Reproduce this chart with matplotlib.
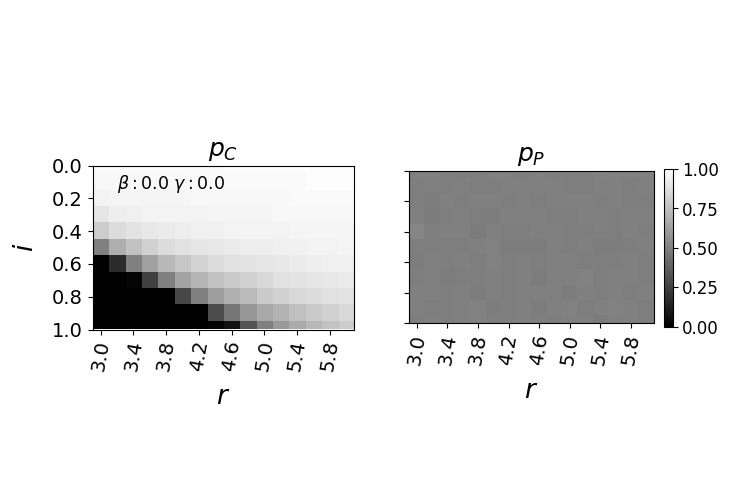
import matplotlib
matplotlib.use('Agg')
import matplotlib.pyplot as plt
import numpy as np

r_vals = [3.0, 3.2, 3.4, 3.6, 3.8, 4.0, 4.2, 4.4, 4.6, 4.8, 5.0, 5.2, 5.4, 5.6, 5.8, 6.0]
i_vals = [0.0, 0.1, 0.2, 0.3, 0.4, 0.5, 0.6, 0.7, 0.8, 0.9, 1.0]
x_ticks = [3.0, 3.4, 3.8, 4.2, 4.6, 5.0, 5.4, 5.8]
y_ticks = [0.0, 0.2, 0.4, 0.6, 0.8, 1.0]
cbar_ticks = [0.0, 0.25, 0.5, 0.75, 1.0]

# rows = i, columns = r
p_c = [
    [0.98, 0.98, 0.98, 0.98, 0.98, 0.98, 0.98, 0.98, 0.99, 0.99, 0.99, 0.99, 0.99, 0.99, 0.99, 0.99],
    [0.97, 0.97, 0.97, 0.97, 0.97, 0.97, 0.98, 0.98, 0.98, 0.98, 0.98, 0.98, 0.98, 0.99, 0.99, 0.99],
    [0.95, 0.96, 0.96, 0.96, 0.96, 0.96, 0.97, 0.97, 0.97, 0.97, 0.97, 0.97, 0.98, 0.98, 0.98, 0.98],
    [0.90, 0.93, 0.94, 0.95, 0.95, 0.95, 0.95, 0.96, 0.96, 0.96, 0.96, 0.97, 0.97, 0.97, 0.97, 0.97],
    [0.80, 0.86, 0.89, 0.91, 0.92, 0.93, 0.94, 0.94, 0.95, 0.95, 0.95, 0.95, 0.96, 0.96, 0.96, 0.96],
    [0.50, 0.68, 0.76, 0.82, 0.86, 0.88, 0.90, 0.91, 0.92, 0.93, 0.93, 0.94, 0.94, 0.95, 0.95, 0.96],
    [0.00, 0.17, 0.50, 0.63, 0.72, 0.78, 0.83, 0.86, 0.88, 0.89, 0.90, 0.91, 0.92, 0.93, 0.94, 0.94],
    [0.00, 0.00, 0.02, 0.25, 0.50, 0.64, 0.71, 0.76, 0.79, 0.82, 0.85, 0.88, 0.89, 0.90, 0.91, 0.92],
    [0.00, 0.00, 0.00, 0.00, 0.00, 0.28, 0.50, 0.62, 0.69, 0.73, 0.79, 0.82, 0.85, 0.86, 0.88, 0.89],
    [0.00, 0.00, 0.00, 0.00, 0.00, 0.00, 0.00, 0.30, 0.46, 0.59, 0.66, 0.70, 0.75, 0.79, 0.82, 0.85],
    [0.00, 0.00, 0.00, 0.00, 0.00, 0.00, 0.00, 0.02, 0.07, 0.33, 0.50, 0.60, 0.67, 0.72, 0.76, 0.80],
]

p_p = [
    [0.50, 0.50, 0.495, 0.495, 0.495, 0.50, 0.50, 0.495, 0.50, 0.495, 0.495, 0.495, 0.505, 0.50, 0.50, 0.50],
    [0.495, 0.50, 0.495, 0.50, 0.495, 0.495, 0.50, 0.50, 0.50, 0.50, 0.495, 0.495, 0.50, 0.50, 0.495, 0.50],
    [0.495, 0.49, 0.50, 0.495, 0.50, 0.50, 0.495, 0.50, 0.495, 0.50, 0.50, 0.50, 0.495, 0.50, 0.495, 0.495],
    [0.50, 0.485, 0.495, 0.50, 0.495, 0.49, 0.50, 0.50, 0.50, 0.495, 0.495, 0.50, 0.50, 0.495, 0.50, 0.50],
    [0.525, 0.495, 0.50, 0.50, 0.485, 0.50, 0.495, 0.495, 0.50, 0.50, 0.495, 0.495, 0.50, 0.495, 0.50, 0.495],
    [0.495, 0.495, 0.495, 0.495, 0.50, 0.505, 0.49, 0.49, 0.49, 0.50, 0.495, 0.50, 0.49, 0.49, 0.495, 0.50],
    [0.49, 0.50, 0.495, 0.50, 0.495, 0.505, 0.495, 0.50, 0.495, 0.50, 0.50, 0.495, 0.495, 0.495, 0.50, 0.495],
    [0.495, 0.50, 0.49, 0.495, 0.495, 0.50, 0.495, 0.50, 0.49, 0.50, 0.50, 0.51, 0.495, 0.50, 0.50, 0.495],
    [0.50, 0.50, 0.495, 0.50, 0.49, 0.50, 0.495, 0.50, 0.50, 0.50, 0.49, 0.50, 0.495, 0.50, 0.495, 0.50],
    [0.50, 0.495, 0.495, 0.50, 0.505, 0.49, 0.495, 0.50, 0.49, 0.50, 0.505, 0.495, 0.50, 0.505, 0.50, 0.495],
    [0.495, 0.50, 0.495, 0.50, 0.505, 0.495, 0.495, 0.50, 0.495, 0.495, 0.50, 0.50, 0.485, 0.50, 0.50, 0.495],
]

W, H = 747, 498
fig = plt.figure(figsize=(W / 100, H / 100), dpi=100)

def px(x0, x1, ytop, ybot):
    return [x0 / W, 1 - ybot / H, (x1 - x0) / W, (ybot - ytop) / H]

ax1 = fig.add_axes(px(92.5, 354.5, 165.5, 329.5))
ax2 = fig.add_axes(px(409, 654, 171, 323))
cax = fig.add_axes(px(664, 672.5, 169, 327))

dr = r_vals[1] - r_vals[0]
di = i_vals[1] - i_vals[0]
extent = [r_vals[0] - dr / 2, r_vals[-1] + dr / 2, i_vals[-1] + di / 2, i_vals[0] - di / 2]

for ax, data, title in [(ax1, p_c, r'$p_C$'), (ax2, p_p, r'$p_P$')]:
    im = ax.imshow(np.array(data), cmap='gray', vmin=0, vmax=1, extent=extent,
                   aspect='auto', interpolation='nearest')
    ax.set_xlim(extent[0], extent[1])
    ax.set_ylim(1.0, 0.0)
    ax.set_xticks(x_ticks)
    ax.set_xticklabels(['%.1f' % t for t in x_ticks], rotation=80, fontsize=14)
    ax.set_yticks(y_ticks)
    ax.set_title(title, fontsize=18, pad=7)
    ax.set_xlabel(r'$r$', fontsize=19, labelpad=8)

ax1.set_yticklabels(['%.1f' % t for t in y_ticks], fontsize=14)
ax1.set_ylabel(r'$i$', fontsize=19, labelpad=9)
ax2.set_yticklabels([])
ax1.text(0.095, 0.89, r'$\beta:0.0$ $\gamma:0.0$', transform=ax1.transAxes,
         va='center', ha='left', fontsize=12.5)

cb = fig.colorbar(im, cax=cax, ticks=cbar_ticks)
cb.ax.set_yticklabels(['%.2f' % t for t in cbar_ticks], fontsize=12)

fig.savefig('out.png', dpi=100)
